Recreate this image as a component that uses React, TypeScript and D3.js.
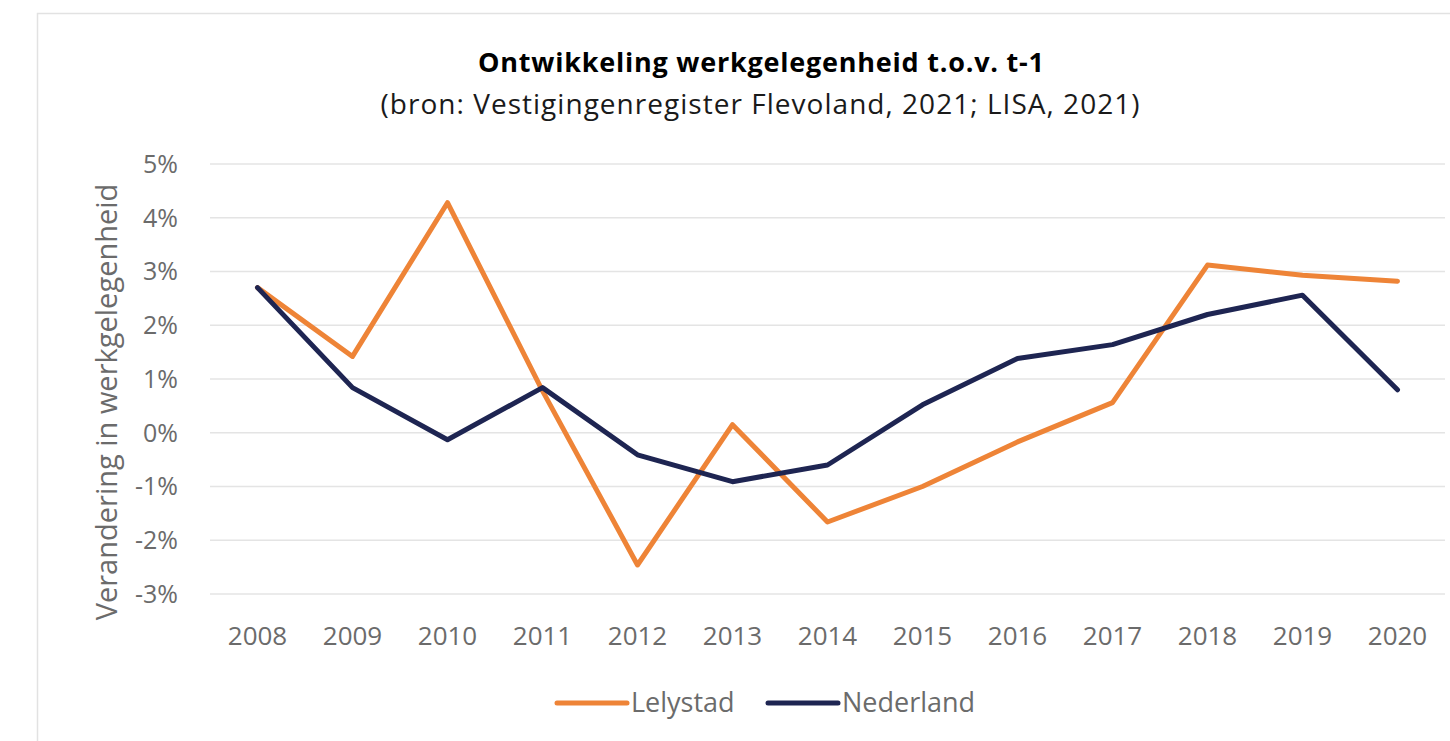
import { useEffect, useRef } from "react";
import * as d3 from "d3";

const years = ["2008", "2009", "2010", "2011", "2012", "2013", "2014", "2015", "2016", "2017", "2018", "2019", "2020"];
const lelystad = [2.7, 1.42, 4.28, 0.78, -2.46, 0.15, -1.66, -1.0, -0.17, 0.56, 3.12, 2.93, 2.82];
const nederland = [2.7, 0.84, -0.13, 0.84, -0.41, -0.91, -0.6, 0.52, 1.38, 1.64, 2.2, 2.56, 0.8];
const yTicks = [5, 4, 3, 2, 1, 0, -1, -2, -3];

const series = [
  { name: "Lelystad", values: lelystad, color: "#EE8437" },
  { name: "Nederland", values: nederland, color: "#1E2552" },
];

const FONT = "'Open Sans', 'Noto Sans', sans-serif";

export default function App() {
  const svgRef = useRef(null);
  const width = 1450;
  const height = 741;

  useEffect(() => {
    const margin = { top: 164, right: 5, bottom: 147, left: 210 };

    const svg = d3.select(svgRef.current);
    svg.selectAll("*").remove();

    svg.append("rect")
      .attr("width", width)
      .attr("height", height)
      .attr("fill", "#ffffff");

    // chart frame
    svg.append("rect")
      .attr("x", 37.5)
      .attr("y", 13.5)
      .attr("width", width + 20)
      .attr("height", height + 20)
      .attr("fill", "none")
      .attr("stroke", "#e2e2e2")
      .attr("stroke-width", 1.5);

    const x = d3.scaleBand()
      .domain(years)
      .range([margin.left, width - margin.right]);

    const y = d3.scaleLinear()
      .domain([-3, 5])
      .range([height - margin.bottom, margin.top]);

    // gridlines
    svg.append("g")
      .selectAll("line")
      .data(yTicks)
      .join("line")
      .attr("x1", margin.left)
      .attr("x2", width - margin.right)
      .attr("y1", d => y(d))
      .attr("y2", d => y(d))
      .attr("stroke", "#e4e4e4")
      .attr("stroke-width", 1.5);

    // y axis labels
    svg.append("g")
      .selectAll("text")
      .data(yTicks)
      .join("text")
      .attr("x", 178)
      .attr("y", d => y(d))
      .attr("dy", "0.35em")
      .attr("text-anchor", "end")
      .attr("font-family", FONT)
      .attr("font-size", 25)
      .attr("fill", "#6b6b6b")
      .text(d => `${d}%`);

    // x axis labels
    svg.append("g")
      .selectAll("text")
      .data(years)
      .join("text")
      .attr("x", d => x(d) + x.bandwidth() / 2)
      .attr("y", 645)
      .attr("text-anchor", "middle")
      .attr("font-family", FONT)
      .attr("font-size", 26)
      .attr("fill", "#6b6b6b")
      .text(d => d);

    // axis title
    svg.append("text")
      .attr("transform", `translate(117,402) rotate(-90)`)
      .attr("text-anchor", "middle")
      .attr("font-family", FONT)
      .attr("font-size", 29)
      .attr("fill", "#6b6b6b")
      .text("Verandering in werkgelegenheid");

    // lines
    const line = d3.line<number>()
      .x((_, i) => x(years[i]) + x.bandwidth() / 2)
      .y(d => y(d));

    series.forEach(s => {
      svg.append("path")
        .datum(s.values)
        .attr("d", line)
        .attr("fill", "none")
        .attr("stroke", s.color)
        .attr("stroke-width", 5)
        .attr("stroke-linejoin", "round")
        .attr("stroke-linecap", "round");
    });

    // title
    svg.append("text")
      .attr("x", 761)
      .attr("y", 72)
      .attr("text-anchor", "middle")
      .attr("font-family", FONT)
      .attr("font-weight", "bold")
      .attr("font-size", 27)
      .attr("fill", "#000000")
      .attr("textLength", 566)
      .attr("lengthAdjust", "spacing")
      .text("Ontwikkeling werkgelegenheid t.o.v. t-1");

    svg.append("text")
      .attr("x", 760)
      .attr("y", 114)
      .attr("text-anchor", "middle")
      .attr("font-family", FONT)
      .attr("font-size", 28)
      .attr("fill", "#1a1a1a")
      .attr("textLength", 759)
      .attr("lengthAdjust", "spacing")
      .text("(bron: Vestigingenregister Flevoland, 2021; LISA, 2021)");

    // legend
    const legendX = [557, 768];
    series.forEach((s, i) => {
      const g = svg.append("g").attr("transform", `translate(${legendX[i]},703)`);
      g.append("line")
        .attr("x1", 0)
        .attr("x2", 70)
        .attr("stroke", s.color)
        .attr("stroke-width", 5)
        .attr("stroke-linecap", "round");
      g.append("text")
        .attr("x", 74)
        .attr("dy", "0.35em")
        .attr("font-family", FONT)
        .attr("font-size", 27)
        .attr("fill", "#6b6b6b")
        .text(s.name);
    });
  }, []);

  return (
    <svg
      ref={svgRef}
      width={width}
      height={height}
      style={{ position: "absolute", left: 0, top: 0, display: "block" }}
    />
  );
}
